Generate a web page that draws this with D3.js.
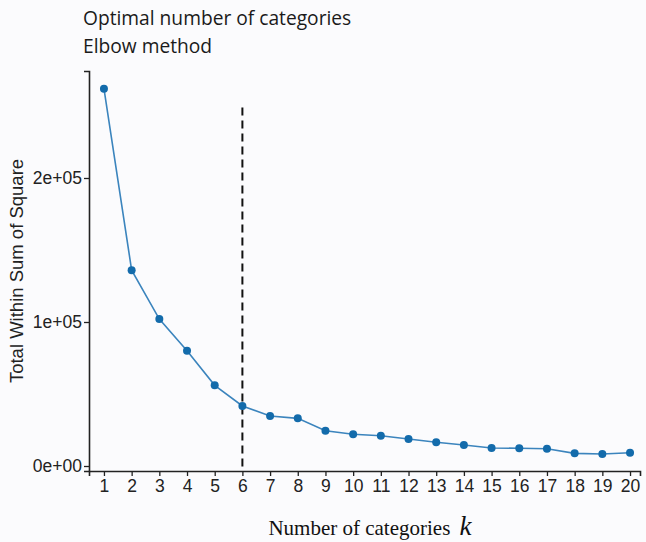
<!DOCTYPE html>
<html><head><meta charset="utf-8">
<script src="https://cdn.jsdelivr.net/npm/d3@7"></script>
<style>
html,body{margin:0;padding:0;background:#fbfbfd;}
svg{display:block;}
</style></head>
<body>
<script>
const ks = [1,2,3,4,5,6,7,8,9,10,11,12,13,14,15,16,17,18,19,20];
const wss = [262000,136000,102000,80000,56000,41700,34700,33100,24500,22000,21000,18750,16500,14600,12500,12300,12000,8800,8300,9200];
const yTicks = [0,100000,200000];
const yTickLabels = ["0e+00","1e+05","2e+05"];
const optimalK = 6;
const titleLines = ["Optimal number of categories","Elbow method"];

const W=646,H=542;
const svg=d3.select("body").append("svg").attr("width",W).attr("height",H);

const x=d3.scaleLinear().domain([0.46,20.36]).range([89,640]);
const y=d3.scaleLinear().domain([-3472,274300]).range([471,71]);

// titles
svg.append("text").attr("x",83).attr("y",25).text(titleLines[0])
  .attr("font-family","Open Sans").attr("font-size",19.2).attr("fill","#1a1a1a");
svg.append("text").attr("x",83).attr("y",53).text(titleLines[1])
  .attr("font-family","Open Sans").attr("font-size",19.2).attr("fill","#1a1a1a");

// axes
const gx=svg.append("g").attr("transform","translate(0,471)")
  .call(d3.axisBottom(x).tickValues(ks).tickFormat(d3.format("d")).tickSizeOuter(0).tickSize(5).tickPadding(4));
const gy=svg.append("g").attr("transform","translate(89,0)")
  .call(d3.axisLeft(y).tickValues(yTicks).tickFormat((d,i)=>yTickLabels[i]).tickSizeOuter(0).tickSize(5).tickPadding(2));
[gx,gy].forEach(g=>{
  g.select(".domain").attr("stroke","#222").attr("stroke-width",1.6);
  g.selectAll(".tick line").attr("stroke","#222").attr("stroke-width",1.3);
  g.selectAll(".tick text").attr("font-family","Liberation Sans, Arial").attr("font-size",17.5).attr("fill","#222");
});

// vline
svg.append("line").attr("x1",x(optimalK)).attr("x2",x(optimalK))
  .attr("y1",y(249000)).attr("y2",471)
  .attr("stroke","#111").attr("stroke-width",2).attr("stroke-dasharray","8,5");

// line
const line=d3.line().x((d,i)=>x(ks[i])).y(d=>y(d));
svg.append("path").datum(wss).attr("d",line).attr("fill","none")
  .attr("stroke","#3b84bd").attr("stroke-width",1.6);
svg.selectAll("circle").data(wss).join("circle")
  .attr("cx",(d,i)=>x(ks[i])).attr("cy",d=>y(d)).attr("r",4)
  .attr("fill","#136bab");

// y label
svg.append("text").attr("transform","translate(23,271) rotate(-90)")
  .attr("text-anchor","middle").text("Total Within Sum of Square")
  .attr("font-family","Liberation Sans, Arial").attr("font-size",18.5).attr("fill","#222");

// x label
const xl=svg.append("text").attr("x",370).attr("y",535).attr("text-anchor","middle")
  .attr("font-family","Liberation Serif, Times New Roman").attr("font-size",21).attr("fill","#111");
xl.append("tspan").text("Number of categories ");
xl.append("tspan").text("k").attr("font-style","italic").attr("font-size",27).attr("dx",4);
</script>
</body></html>
